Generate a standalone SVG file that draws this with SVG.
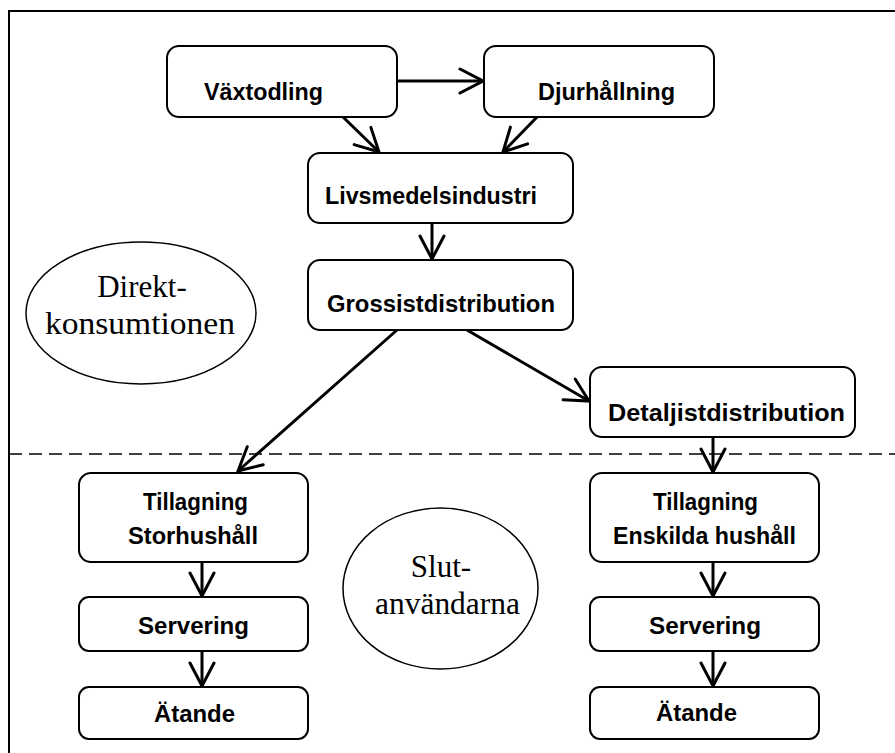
<svg xmlns="http://www.w3.org/2000/svg" width="895" height="753" viewBox="0 0 895 753">
<style>
.box{fill:#fff;stroke:#000;stroke-width:2}
.lbl{font-family:"Liberation Sans",Arial,sans-serif;font-weight:bold;font-size:23px;fill:#000}
.ser{font-family:"Liberation Serif","Times New Roman",serif;font-size:31px;fill:#000;text-anchor:middle}
.ell{fill:#fff;stroke:#000;stroke-width:1.5}
.con{fill:none;stroke:#000;stroke-width:3;marker-end:url(#ah)}
</style>
<defs>
<marker id="ah" markerUnits="userSpaceOnUse" viewBox="0 0 28 28" refX="25" refY="14" markerWidth="28" markerHeight="28" orient="auto">
<path d="M2,2 L25,14 L2,26" fill="none" stroke="#000" stroke-width="3" stroke-linecap="round" stroke-linejoin="miter"/>
</marker>
</defs>
<rect width="895" height="753" fill="#fff"/>
<g id="frame">
<path d="M9,753 L9,11 L895,11" fill="none" stroke="#000" stroke-width="2"/>
<line x1="9" y1="454" x2="895" y2="454" stroke="#000" stroke-width="1.5" stroke-dasharray="13,7"/>
</g>
<g id="connectors">
<line class="con" x1="397" y1="81" x2="483" y2="81"/>
<line class="con" x1="343" y1="117" x2="379" y2="152"/>
<line class="con" x1="537" y1="117" x2="503" y2="152"/>
<line class="con" x1="432" y1="223" x2="432" y2="259"/>
<line class="con" x1="397" y1="330" x2="238" y2="471"/>
<line class="con" x1="467" y1="330" x2="589" y2="401"/>
<line class="con" x1="713" y1="437" x2="713" y2="472"/>
<line class="con" x1="202" y1="562" x2="202" y2="596"/>
<line class="con" x1="202" y1="651" x2="202" y2="686"/>
<line class="con" x1="713" y1="562" x2="713" y2="596"/>
<line class="con" x1="713" y1="651" x2="713" y2="686"/>
</g>
<g id="vaxtodling">
<rect class="box" x="167" y="46" width="230" height="71" rx="12"/>
<text class="lbl" x="204" y="100" textLength="119" lengthAdjust="spacingAndGlyphs">Växtodling</text>
</g>
<g id="djurhallning">
<rect class="box" x="484" y="46" width="230" height="71" rx="12"/>
<text class="lbl" x="538" y="100" textLength="137" lengthAdjust="spacingAndGlyphs">Djurhållning</text>
</g>
<g id="livsmedelsindustri">
<rect class="box" x="308" y="153" width="265" height="70" rx="12"/>
<text class="lbl" x="325" y="204" textLength="212" lengthAdjust="spacingAndGlyphs">Livsmedelsindustri</text>
</g>
<g id="grossistdistribution">
<rect class="box" x="308" y="260" width="265" height="70" rx="12"/>
<text class="lbl" x="327" y="312" textLength="228" lengthAdjust="spacingAndGlyphs">Grossistdistribution</text>
</g>
<g id="detaljistdistribution">
<rect class="box" x="590" y="367" width="265" height="70" rx="12"/>
<text class="lbl" x="608" y="421" textLength="237" lengthAdjust="spacingAndGlyphs">Detaljistdistribution</text>
</g>
<g id="direktkonsumtionen">
<ellipse class="ell" cx="141" cy="313" rx="115" ry="71"/>
<text class="ser" x="142" y="297">Direkt-</text>
<text class="ser" x="140" y="334" textLength="190" lengthAdjust="spacingAndGlyphs">konsumtionen</text>
</g>
<g id="slutanvandarna">
<ellipse class="ell" cx="440.5" cy="588.5" rx="97.5" ry="80.5"/>
<text class="ser" x="441" y="577">Slut-</text>
<text class="ser" x="447.5" y="614" textLength="145" lengthAdjust="spacingAndGlyphs">användarna</text>
</g>
<g id="tillagning-storhushall">
<rect class="box" x="79" y="473" width="229" height="89" rx="12"/>
<text class="lbl" x="143" y="510" textLength="105" lengthAdjust="spacingAndGlyphs">Tillagning</text>
<text class="lbl" x="128" y="544" textLength="130" lengthAdjust="spacingAndGlyphs">Storhushåll</text>
</g>
<g id="servering-1">
<rect class="box" x="79" y="597" width="229" height="54" rx="10"/>
<text class="lbl" x="138" y="634" textLength="111" lengthAdjust="spacingAndGlyphs">Servering</text>
</g>
<g id="atande-1">
<rect class="box" x="79" y="687" width="229" height="52" rx="10"/>
<text class="lbl" x="154" y="722" textLength="81" lengthAdjust="spacingAndGlyphs">Ätande</text>
</g>
<g id="tillagning-enskilda">
<rect class="box" x="590" y="473" width="229" height="89" rx="12"/>
<text class="lbl" x="653" y="510" textLength="105" lengthAdjust="spacingAndGlyphs">Tillagning</text>
<text class="lbl" x="613" y="544" textLength="183" lengthAdjust="spacingAndGlyphs">Enskilda hushåll</text>
</g>
<g id="servering-2">
<rect class="box" x="590" y="597" width="229" height="54" rx="10"/>
<text class="lbl" x="649" y="634" textLength="112" lengthAdjust="spacingAndGlyphs">Servering</text>
</g>
<g id="atande-2">
<rect class="box" x="590" y="687" width="229" height="52" rx="10"/>
<text class="lbl" x="656" y="721" textLength="81" lengthAdjust="spacingAndGlyphs">Ätande</text>
</g>
</svg>
